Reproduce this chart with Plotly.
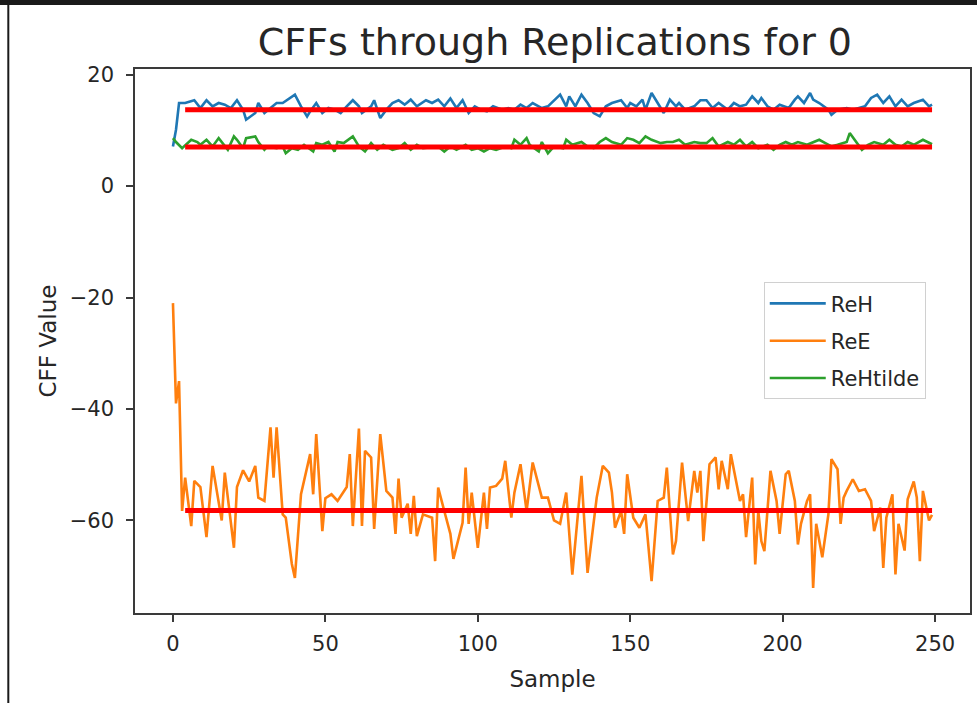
import plotly.graph_objects as go

# ---- data ----
reh_x = [0, 1, 2, 4, 7, 9, 11, 13, 15, 17, 19, 21, 23, 24, 27, 28, 30, 32, 34, 36, 39, 40, 42, 44, 45, 47, 49, 51,
         53, 55, 57, 59, 61, 62, 65, 66, 68, 70, 72, 74, 76, 78, 80, 83, 85, 87, 89, 91, 93, 95, 97, 99, 101, 103,
         105, 108, 110, 112, 114, 116, 118, 121, 123, 125, 127, 129, 130, 132, 134, 136, 138, 140, 142, 144, 147,
         149, 150, 152, 154, 155, 157, 159, 161, 163, 165, 166, 168, 171, 173, 175, 177, 179, 182, 184, 186, 188,
         190, 192, 193, 195, 197, 199, 202, 204, 205, 207, 209, 210, 212, 215, 216, 218, 221, 223, 225, 227, 229,
         231, 233, 235, 237, 239, 241, 243, 246, 248, 249]
reh_y = [7.1, 10.1, 14.9, 14.9, 15.4, 14.0, 15.4, 14.3, 14.9, 14.6, 14.0, 15.4, 13.7, 11.9, 13.1, 14.9, 13.1, 14.0,
         14.9, 14.9, 16.1, 16.4, 14.3, 12.5, 13.4, 14.9, 13.1, 14.0, 13.7, 13.1, 14.3, 15.4, 14.3, 13.1, 14.3, 15.4,
         12.2, 13.7, 14.9, 15.4, 14.6, 15.5, 14.3, 15.4, 14.9, 15.5, 14.3, 15.7, 14.0, 15.4, 13.1, 14.3, 13.7, 13.4,
         14.3, 13.7, 14.0, 13.7, 14.6, 14.0, 14.9, 14.0, 14.3, 15.4, 16.4, 14.3, 16.1, 14.3, 16.4, 14.9, 13.1, 12.5,
         14.3, 14.9, 15.4, 14.0, 14.9, 14.3, 15.5, 13.7, 16.7, 14.9, 13.1, 15.5, 14.3, 14.9, 13.7, 14.3, 15.4, 15.4,
         14.0, 14.9, 13.7, 14.9, 14.3, 14.6, 16.1, 14.9, 15.8, 14.3, 13.7, 14.6, 14.0, 15.5, 16.1, 14.9, 16.7, 15.5,
         14.9, 13.7, 12.8, 13.7, 14.0, 13.7, 14.0, 14.3, 15.8, 16.4, 14.9, 16.1, 14.3, 15.5, 14.3, 14.9, 15.5, 14.3,
         14.6]

ree_x = [0, 1, 2, 3, 4, 6, 7, 9, 11, 13, 16, 17, 20, 21, 23, 25, 27, 28, 30, 32, 33, 34, 36, 37, 39, 40, 42, 45,
         46, 47, 49, 50, 52, 54, 57, 58, 59, 61, 62, 63, 65, 66, 68, 70, 72, 73, 74, 75, 77, 78, 79, 80, 82, 85, 86,
         87, 89, 91, 92, 95, 96, 97, 98, 100, 102, 103, 104, 106, 108, 109, 111, 112, 114, 116, 118, 121, 123, 125,
         127, 129, 131, 134, 136, 139, 141, 143, 144, 145, 147, 148, 149, 151, 153, 155, 157, 159, 161, 162, 164,
         165, 167, 169, 171, 172, 173, 174, 176, 178, 179, 180, 182, 183, 186, 187, 188, 190, 191, 192, 193, 194,
         196, 198, 199, 201, 202, 204, 205, 206, 208, 209, 210, 211, 213, 215, 216, 218, 219, 220, 221, 223, 225,
         227, 229, 230, 232, 233, 234, 236, 237, 238, 240, 241, 243, 244, 245, 246, 248, 249]
ree_y = [-21.0, -39.0, -35.0, -58.3, -52.3, -61.0, -52.9, -54.0, -63.0, -50.2, -60.0, -51.4, -64.9, -54.0, -51.0,
         -53.0, -50.2, -55.9, -56.5, -43.3, -52.3, -43.3, -58.9, -59.5, -67.8, -70.3, -55.3, -48.1, -55.3, -44.5,
         -61.9, -56.0, -55.3, -56.5, -54.0, -48.1, -61.0, -43.5, -61.0, -47.5, -48.7, -61.5, -44.5, -54.7, -55.9,
         -62.4, -52.5, -59.5, -57.0, -62.4, -55.6, -62.8, -58.9, -59.5, -67.3, -54.1, -58.3, -62.4, -66.9, -60.4,
         -50.5, -60.6, -55.0, -64.9, -55.0, -61.5, -54.1, -53.8, -52.5, -49.3, -59.5, -55.0, -49.9, -58.3, -49.6,
         -55.9, -55.9, -60.0, -60.6, -55.0, -69.7, -52.0, -69.4, -55.9, -50.2, -51.4, -55.0, -61.3, -58.3, -62.4,
         -51.7, -59.5, -61.3, -58.9, -70.9, -56.5, -55.9, -50.5, -66.1, -63.7, -49.6, -60.1, -51.1, -55.0, -51.1,
         -63.7, -49.9, -48.7, -54.4, -49.3, -54.4, -48.1, -56.5, -55.3, -63.0, -52.3, -67.9, -58.3, -63.7, -65.5,
         -51.1, -56.5, -62.4, -51.7, -51.1, -56.5, -64.3, -60.6, -56.5, -55.3, -72.1, -60.6, -66.6, -58.9, -49.0,
         -50.8, -60.6, -55.9, -54.7, -52.6, -54.7, -54.4, -56.5, -61.9, -57.7, -68.5, -59.5, -55.3, -69.7, -60.6,
         -65.4, -56.2, -53.0, -55.9, -67.3, -54.7, -60.0, -59.0]

reht_x = [0, 1, 3, 6, 8, 9, 11, 13, 15, 16, 18, 20, 21, 23, 24, 27, 28, 30, 31, 34, 36, 37, 39, 41, 43, 46, 47,
          49, 51, 53, 54, 56, 59, 61, 63, 65, 67, 69, 72, 74, 76, 78, 80, 82, 85, 87, 89, 91, 93, 96, 98, 100, 102,
          104, 106, 109, 111, 112, 114, 116, 117, 120, 121, 123, 125, 128, 129, 131, 134, 136, 138, 140, 142, 144,
          147, 149, 151, 153, 155, 157, 160, 162, 164, 166, 168, 171, 173, 175, 177, 179, 182, 184, 186, 188, 190,
          192, 195, 197, 199, 201, 203, 205, 208, 210, 212, 214, 216, 218, 221, 222, 224, 226, 228, 230, 233, 235,
          237, 239, 241, 243, 246, 248, 249]
reht_y = [8.6, 7.9, 6.8, 8.3, 7.9, 7.4, 8.3, 7.1, 8.6, 7.9, 6.5, 8.9, 8.3, 6.8, 8.6, 8.9, 7.9, 6.5, 7.1, 6.8, 7.1,
          5.9, 6.8, 6.5, 7.4, 6.2, 7.7, 7.4, 7.9, 6.2, 7.9, 7.7, 8.9, 7.1, 6.2, 7.7, 6.5, 7.4, 6.5, 6.8, 7.7, 6.5,
          7.4, 6.8, 7.0, 7.1, 6.2, 7.1, 6.5, 7.4, 6.5, 6.8, 6.2, 6.8, 6.5, 7.1, 6.8, 8.3, 7.4, 8.6, 7.4, 6.2, 7.9,
          5.9, 7.1, 6.8, 8.3, 7.4, 7.9, 7.1, 6.8, 7.9, 8.6, 7.9, 7.4, 8.6, 8.3, 7.7, 8.9, 8.3, 7.7, 7.9, 7.9, 8.3,
          7.4, 7.9, 7.7, 7.7, 8.6, 7.1, 7.9, 7.4, 8.3, 7.1, 7.9, 6.8, 7.4, 6.5, 7.4, 7.9, 7.4, 7.9, 7.4, 7.9, 8.3,
          7.7, 7.1, 7.4, 7.9, 9.5, 7.9, 6.5, 7.4, 7.9, 7.4, 8.3, 7.4, 7.1, 7.9, 7.4, 8.3, 7.7, 7.5]

mean_x = [4, 249]
mean_reh = [13.7, 13.7]
mean_ree = [-58.2, -58.2]
mean_reht = [7.0, 7.0]

x_ticks = [0, 50, 100, 150, 200, 250]
y_ticks = [20, 0, -20, -40, -60]

FONT = "DejaVu Sans"
TXT = "#262626"
fig = go.Figure()
fig.add_trace(go.Scatter(x=reh_x, y=reh_y, mode="lines", name="ReH", legendgroup="a",
                         line=dict(color="#1f77b4", width=2.6)))
fig.add_trace(go.Scatter(x=ree_x, y=ree_y, mode="lines", name="ReE", legendgroup="b",
                         line=dict(color="#ff7f0e", width=2.6)))
fig.add_trace(go.Scatter(x=reht_x, y=reht_y, mode="lines", name="ReHtilde", legendgroup="c",
                         line=dict(color="#2ca02c", width=2.6)))
for m in (mean_reh, mean_reht, mean_ree):
    fig.add_trace(go.Scatter(x=mean_x, y=m, mode="lines", showlegend=False,
                             line=dict(color="red", width=5)))

axis_common = dict(showgrid=False, zeroline=False, showline=True, linecolor="#3a3a3a", linewidth=1.5,
                   mirror=True, ticks="outside", ticklen=7, tickwidth=1.5, tickcolor="#3a3a3a",
                   tickfont=dict(family=FONT, size=21, color=TXT))

fig.update_layout(
    width=977, height=703,
    margin=dict(l=135, r=5, t=69, b=90),
    paper_bgcolor="white", plot_bgcolor="white",
    font=dict(family=FONT, color=TXT),
    title=dict(text="CFFs through Replications for 0", x=0.568, xanchor="center",
               y=0.94, yanchor="middle", font=dict(family=FONT, size=38, color=TXT)),
    xaxis=dict(range=[-12.45, 261.45], tickvals=x_ticks, ticklabelstandoff=4,
               title=dict(text="Sample", font=dict(family=FONT, size=23, color=TXT), standoff=16),
               **axis_common),
    yaxis=dict(range=[-76.6, 21.0], tickvals=y_ticks, ticklabelstandoff=8,
               ticktext=[str(v).replace("-", "\u2212") for v in y_ticks],
               title=dict(text="CFF Value", font=dict(family=FONT, size=23, color=TXT), standoff=7),
               **axis_common),
    legend=dict(x=0.753, y=0.608, xanchor="left", yanchor="top", bgcolor="white",
                bordercolor="#d0d0d0", borderwidth=1, traceorder="grouped", tracegroupgap=7,
                itemwidth=56, entrywidth=180, font=dict(family=FONT, size=21, color=TXT)),
    showlegend=True,
)

# screenshot frame edges (dark band on top, thin line on left)
fig.add_shape(type="rect", xref="paper", yref="paper", x0=-0.2, x1=1.1, y0=(613 - 5) / 544, y1=(613 + 2) / 544,
              fillcolor="#1a1a1a", line=dict(width=0), layer="above")
fig.add_shape(type="line", xref="paper", yref="paper", x0=(8 - 135) / 837, x1=(8 - 135) / 837,
              y0=-0.2, y1=1.2, line=dict(color="#1a1a1a", width=2), layer="above")

fig.write_html("out.html")
